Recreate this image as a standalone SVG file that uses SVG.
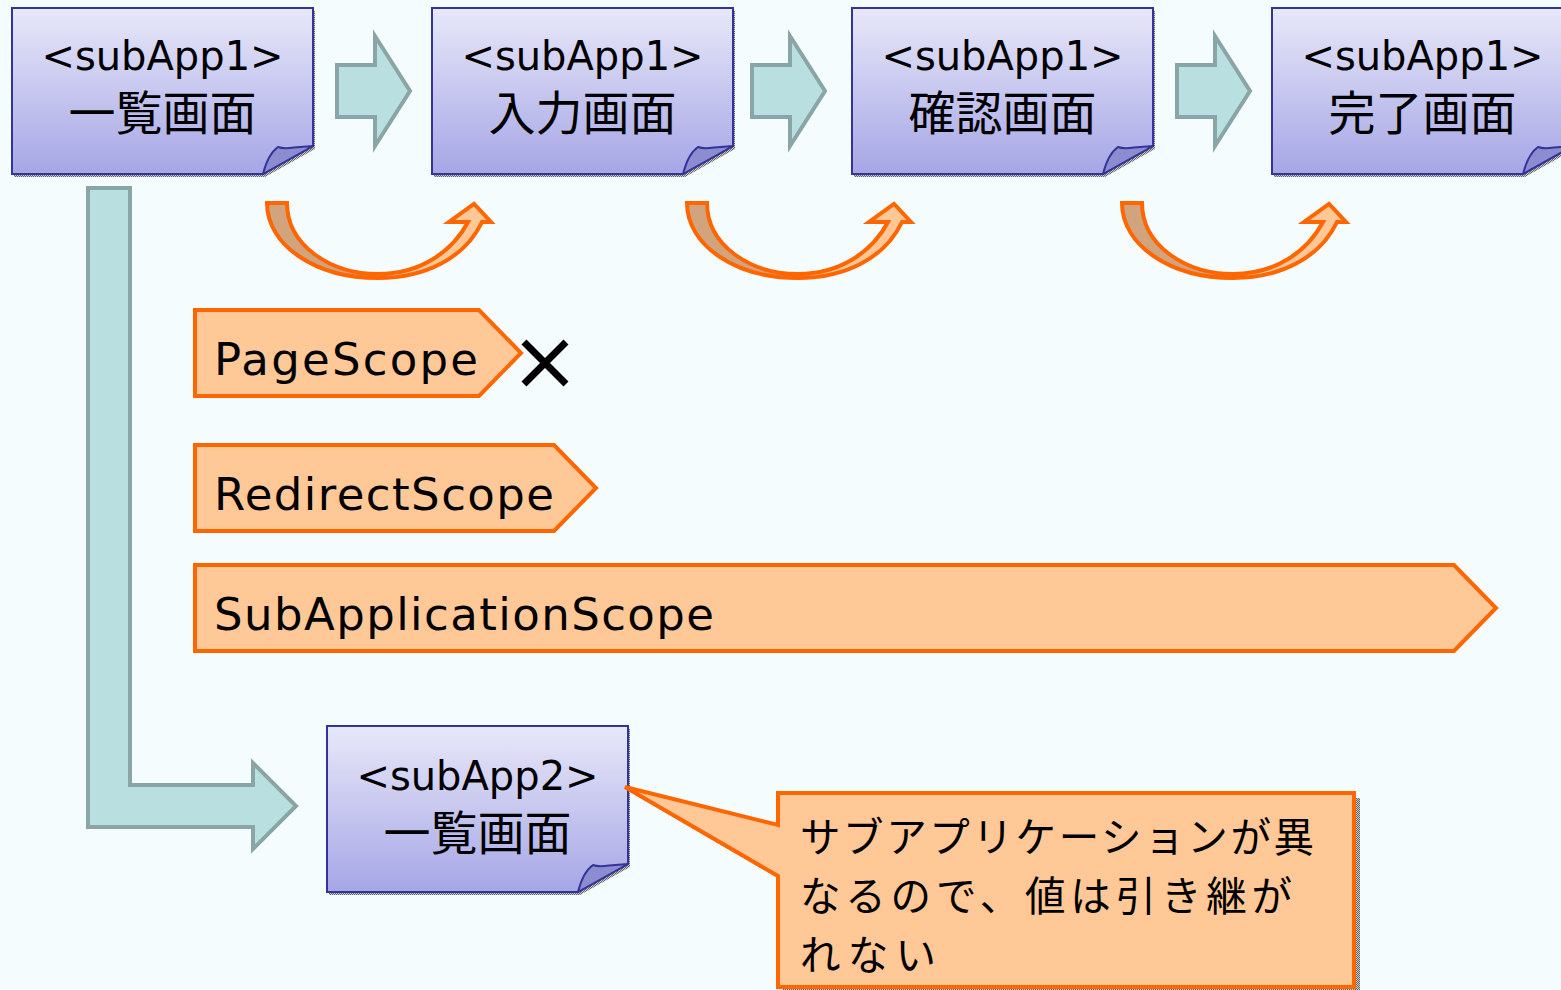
<svg xmlns="http://www.w3.org/2000/svg" width="1561" height="990" viewBox="0 0 1561 990">
<defs>
<linearGradient id="nodeGrad" x1="0" y1="0" x2="0" y2="1">
<stop offset="0" stop-color="#E8E8F9"/>
<stop offset="1" stop-color="#A6A6E6"/>
</linearGradient>
<linearGradient id="curveGrad" x1="0" y1="0" x2="1" y2="0">
<stop offset="0" stop-color="#D2A47E"/>
<stop offset="0.49" stop-color="#D2A47E"/>
<stop offset="0.51" stop-color="#FFC896"/>
<stop offset="1" stop-color="#FFC896"/>
</linearGradient>
<pattern id="dots" width="2" height="2" patternUnits="userSpaceOnUse">
<rect width="2" height="2" fill="#C8C8C8"/>
<rect width="1" height="1" fill="#666"/>
<rect x="1" y="1" width="1" height="1" fill="#666"/>
</pattern>
<path id="nodeBody" d="M 0 0 H 301 V 138 L 251 166 H 0 Z"/>
<path id="nodeFold" d="M 251 166 Q 256 146 266 139 Q 271 141 282 139.5 L 301 138 Z"/>
<path id="blockArrow" d="M 337 65 H 375 V 36 L 410 91 L 375 146 V 117 H 337 Z"/>
<path id="curveArrow" d="M 267 203 C 267 245 315 278 378 278 C 425 278 465 258 482 222 L 491 222 L 474 204 L 449 222 L 468 222 C 452 252 420 274 378 274 C 330 274 287 245 287 203 Z"/>
</defs>
<style>
.bg{fill:#F4FCFE}
.body{fill:url(#nodeGrad);stroke:#333399;stroke-width:2}
.fold{fill:#8C8CD0;stroke:#333399;stroke-width:2;stroke-linejoin:round}
.shadow{fill:url(#dots)}
.lat{font-family:'DejaVu Sans','Noto Sans CJK JP',sans-serif;font-size:40px;fill:#000;text-anchor:middle}
.cjk{font-family:'Noto Sans CJK JP','DejaVu Sans',sans-serif;font-size:47px;fill:#000;text-anchor:middle}
.block{fill:#B9DFE0;stroke:#8AA5A5;stroke-width:4;stroke-linejoin:miter}
.curve{fill:url(#curveGrad);stroke:#FF6600;stroke-width:4;stroke-linejoin:miter}
.scope{fill:#FFC896;stroke:#FF6600;stroke-width:4;stroke-linejoin:miter}
.scopeText{font-family:'DejaVu Sans',sans-serif;font-size:45px;fill:#000}
.note{font-family:'Noto Sans CJK JP',sans-serif;font-size:40.5px;fill:#000}
</style>
<rect class="bg" x="0" y="0" width="1561" height="990"/>

<g id="connectors">
<use href="#blockArrow" class="block"/>
<use href="#blockArrow" class="block" transform="translate(415,0)"/>
<use href="#blockArrow" class="block" transform="translate(840,0)"/>
<use href="#curveArrow" class="curve"/>
<use href="#curveArrow" class="curve" transform="translate(420,0)"/>
<use href="#curveArrow" class="curve" transform="translate(855,0)"/>
<path class="block" d="M 88 188 H 130 V 785 H 253 V 763 L 296 806 L 253 849 V 827 H 88 Z"/>
</g>

<g id="node-list1" transform="translate(12,8)">
<use href="#nodeBody" class="shadow" transform="translate(2,3)"/>
<use href="#nodeBody" class="body"/>
<use href="#nodeFold" class="fold"/>
<text class="lat" x="150.5" y="62">&lt;subApp1&gt;</text>
<text class="cjk" x="150.5" y="122">一覧画面</text>
</g>

<g id="node-input" transform="translate(432,8)">
<use href="#nodeBody" class="shadow" transform="translate(2,3)"/>
<use href="#nodeBody" class="body"/>
<use href="#nodeFold" class="fold"/>
<text class="lat" x="150.5" y="62">&lt;subApp1&gt;</text>
<text class="cjk" x="150.5" y="122">入力画面</text>
</g>

<g id="node-confirm" transform="translate(852,8)">
<use href="#nodeBody" class="shadow" transform="translate(2,3)"/>
<use href="#nodeBody" class="body"/>
<use href="#nodeFold" class="fold"/>
<text class="lat" x="150.5" y="62">&lt;subApp1&gt;</text>
<text class="cjk" x="150.5" y="122">確認画面</text>
</g>

<g id="node-complete" transform="translate(1272,8)">
<use href="#nodeBody" class="shadow" transform="translate(2,3)"/>
<use href="#nodeBody" class="body"/>
<use href="#nodeFold" class="fold"/>
<text class="lat" x="150.5" y="62">&lt;subApp1&gt;</text>
<text class="cjk" x="150.5" y="122">完了画面</text>
</g>

<g id="scope-page">
<path class="scope" d="M 195 310 H 479 L 521 353 L 479 396 H 195 Z"/>
<text class="scopeText" x="214" y="375" textLength="264" lengthAdjust="spacing">PageScope</text>
<path d="M 524 342 L 566 384 M 566 342 L 524 384" stroke="#000" stroke-width="7" fill="none"/>
</g>

<g id="scope-redirect">
<path class="scope" d="M 195 445 H 554 L 596 488 L 554 531 H 195 Z"/>
<text class="scopeText" x="214" y="510" textLength="340" lengthAdjust="spacing">RedirectScope</text>
</g>

<g id="scope-subapp">
<path class="scope" d="M 195 565 H 1454 L 1496 608 L 1454 651 H 195 Z"/>
<text class="scopeText" x="214" y="630" textLength="500" lengthAdjust="spacing">SubApplicationScope</text>
</g>

<g id="node-list2" transform="translate(327,726)">
<use href="#nodeBody" class="shadow" transform="translate(2,3)"/>
<use href="#nodeBody" class="body"/>
<use href="#nodeFold" class="fold"/>
<text class="lat" x="150.5" y="64">&lt;subApp2&gt;</text>
<text class="cjk" x="150.5" y="124">一覧画面</text>
</g>

<g id="callout">
<path class="shadow" d="M 783 798 L 1360 798 L 1360 995 L 783 995 L 783 881 L 630 792 L 783 830 Z"/>
<path class="scope" d="M 778 793 L 1354 793 L 1354 987 L 778 987 L 778 876 L 625 787 L 778 825 Z"/>
<text class="note" x="800" y="852" textLength="514" lengthAdjust="spacing">サブアプリケーションが異</text>
<text class="note" x="800" y="911" textLength="492" lengthAdjust="spacing">なるので、値は引き継が</text>
<text class="note" x="800" y="970" textLength="136" lengthAdjust="spacing">れない</text>
</g>
</svg>
